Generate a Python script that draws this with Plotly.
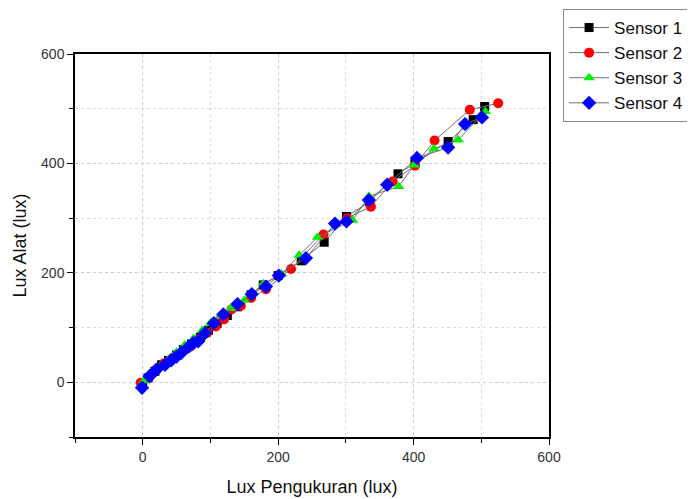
import plotly.graph_objects as go

# Sensor 1 (black squares)
s1_x = [0, 8, 18, 28, 38, 50, 60, 72, 85, 97, 110, 125, 140, 160, 178, 200, 234, 268, 301, 335, 377, 402, 451, 488, 505]
s1_y = [-3, 8, 20, 32, 40, 50, 60, 70, 82, 95, 108, 122, 138, 160, 178, 195, 222, 256, 303, 330, 381, 400, 440, 480, 504]
# Sensor 2 (red circles)
s2_x = [-3, 10, 20, 32, 45, 58, 70, 82, 95, 108, 120, 131, 145, 160, 182, 219, 267, 302, 337, 369, 402, 431, 483, 525]
s2_y = [-1, 10, 22, 35, 45, 55, 65, 78, 90, 102, 115, 133, 140, 154, 170, 207, 270, 300, 321, 367, 396, 442, 498, 510]
# Sensor 3 (green triangles)
s3_x = [2, 12, 25, 38, 50, 62, 75, 88, 100, 115, 130, 150, 178, 205, 231, 258, 310, 334, 378, 401, 430, 466, 506]
s3_y = [3, 15, 28, 42, 55, 68, 80, 95, 108, 122, 135, 150, 180, 198, 232, 265, 296, 340, 358, 397, 427, 443, 495]
# Sensor 4 (blue diamonds)
s4_x = [-1, 10, 20, 33, 42, 50, 57, 68, 75, 82, 92, 105, 119, 140, 161, 182, 201, 241, 284, 301, 334, 361, 405, 451, 476, 501]
s4_y = [-10, 11, 23, 32, 40, 47, 54, 65, 72, 75, 90, 108, 124, 143, 161, 175, 195, 227, 290, 294, 333, 361, 410, 429, 472, 484]

names = ["Sensor 1", "Sensor 2", "Sensor 3", "Sensor 4"]
xs = [s1_x, s2_x, s3_x, s4_x]
ys = [s1_y, s2_y, s3_y, s4_y]
symbols = ["square", "circle", "triangle-up", "diamond"]
colors = ["#000000", "#ff0000", "#00ee00", "#0000ff"]
sizes = [9, 10, 10, 11]

fig = go.Figure()
for n, x, y, s, c, sz in zip(names, xs, ys, symbols, colors, sizes):
    fig.add_trace(go.Scatter(
        x=x, y=y, name=n, mode="lines+markers",
        line=dict(color="#707070", width=1),
        marker=dict(symbol=s, color=c, size=sz, line=dict(width=0)),
    ))

FONT = "Liberation Sans, Arial, sans-serif"
axis_common = dict(
    range=[-100, 600], dtick=200, tick0=0, automargin=False,
    showline=True, linecolor="#000000", linewidth=1.5, mirror=True,
    ticks="outside", ticklen=6, tickwidth=1.2, tickcolor="#000000",
    showgrid=True, gridcolor="#cccccc", gridwidth=1, griddash="3px,3px",
    zeroline=False,
    tickfont=dict(family=FONT, size=14, color="#333333"),
    minor=dict(dtick=100, tick0=0, ticks="outside", ticklen=4, tickcolor="#000000",
               showgrid=True, gridcolor="#dddddd", griddash="dot", gridwidth=1),
)

fig.update_xaxes(**axis_common,
                 title=dict(text="Lux Pengukuran (lux)", standoff=17,
                            font=dict(family=FONT, size=18, color="#111111")))
fig.update_yaxes(**axis_common,
                 title=dict(text="Lux Alat (lux)", standoff=10,
                            font=dict(family=FONT, size=18, color="#111111")))

fig.update_layout(
    width=687, height=491,
    margin=dict(l=67, r=146, t=46, b=62, autoexpand=False),
    plot_bgcolor="white", paper_bgcolor="white",
    font=dict(family=FONT, color="#111111"),
    legend=dict(
        xref="container", yref="container",
        x=0.808, y=0.998, xanchor="left", yanchor="top",
        bordercolor="#888888", borderwidth=1, bgcolor="white",
        font=dict(size=17, color="#111111"),
        tracegroupgap=0, itemwidth=40,
    ),
)

fig.write_html("out.html")
